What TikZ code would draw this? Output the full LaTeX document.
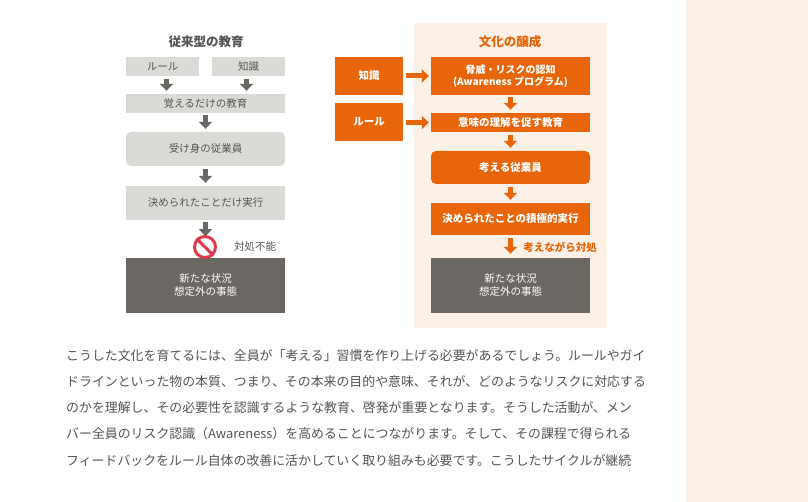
\documentclass[tikz,border=0pt]{standalone}
\usepackage{fontspec}
\setmainfont{Noto Sans CJK JP}
\usetikzlibrary{arrows.meta}
\definecolor{ltgray}{HTML}{DCDAD6}
\definecolor{dkgray}{HTML}{6B6762}
\definecolor{txgray}{HTML}{555555}
\definecolor{orng}{HTML}{E8650A}
\definecolor{cream}{HTML}{FDF0E6}
\definecolor{nored}{HTML}{E03A4A}
\tikzset{
  gbox/.style={fill=ltgray,text=txgray,font=\fontsize{10.5}{12.5}\selectfont,inner sep=0pt},
  obox/.style={fill=orng,text=white,font=\fontsize{10.5}{12.5}\selectfont\bfseries,inner sep=0pt,align=center},
  dbox/.style={fill=dkgray,text=white,font=\fontsize{10.5}{13}\selectfont,inner sep=0pt,align=center},
  garrow/.style={draw=dkgray,line width=5pt,-{Triangle[width=13pt,length=7pt]}},
  oarrow/.style={draw=orng,line width=5pt,-{Triangle[width=13pt,length=7pt]}},
  para/.style={anchor=west,text=txgray,font=\fontsize{12.9}{14}\selectfont,inner sep=0pt}
}
\begin{document}
\begin{tikzpicture}[x=1pt,y=-1pt]
\path[fill=white] (0,0) rectangle (808,502);
\fill[cream] (686,0) rectangle (808,502);
\fill[cream] (414,23) rectangle (607,328);

% left column
\node[text=txgray,font=\fontsize{12.5}{14}\selectfont\bfseries] (ltitle) at (206,42) {従来型の教育};
\node[gbox,minimum width=73pt,minimum height=19pt] (lrule) at (162.5,66.5) {ルール};
\node[gbox,minimum width=73pt,minimum height=19pt] (lknow) at (248.5,66.5) {知識};
\node[gbox,minimum width=159pt,minimum height=19pt] (lmemo) at (205.5,103.5) {覚えるだけの教育};
\node[gbox,minimum width=159pt,minimum height=34pt,rounded corners=5pt] (lpass) at (205.5,149) {受け身の従業員};
\node[gbox,minimum width=159pt,minimum height=34pt] (ldo) at (205.5,203) {決められたことだけ実行};
\node[dbox,minimum width=159pt,minimum height=55pt] (lnew) at (205.5,285.5) {新たな状況\\想定外の事態};
\draw[garrow] ([xshift=4pt,yshift=-3pt]lrule.south) -- ([xshift=4pt,yshift=3pt]lrule.south |- lmemo.north);
\draw[garrow] ([xshift=-2pt,yshift=-3pt]lknow.south) -- ([xshift=-2pt,yshift=3pt]lknow.south |- lmemo.north);
\draw[garrow] ([yshift=-2pt]lmemo.south) -- ([yshift=3pt]lpass.north);
\draw[garrow] ([yshift=-3pt]lpass.south) -- ([yshift=3pt]ldo.north);
\draw[garrow] ([yshift=-2pt]ldo.south) -- ++(0,14);
\node[circle,draw=nored,line width=3pt,fill=white,minimum size=21pt,inner sep=0pt] (lno) at (205,247) {};
\draw[nored,line width=3pt] (lno.north west) -- (lno.south east);
\node[text=txgray,font=\fontsize{10.5}{12}\selectfont] (lcant) at (255,247) {対処不能};

% right column
\node[text=orng,font=\fontsize{12.5}{14}\selectfont\bfseries] (rtitle) at (510,42) {文化の醸成};
\node[obox,minimum width=68pt,minimum height=38pt] (rknow) at (369,76) {知識};
\node[obox,minimum width=68pt,minimum height=38pt] (rrule) at (369,122) {ルール};
\node[obox,minimum width=159pt,minimum height=38pt,font=\fontsize{10}{12.5}\selectfont\bfseries] (rrisk) at (510.5,76) {脅威・リスクの認知\\(Awareness プログラム)};
\node[obox,minimum width=159pt,minimum height=19pt] (redu) at (510.5,122.5) {意味の理解を促す教育};
\node[obox,minimum width=159pt,minimum height=33pt,rounded corners=5pt] (rthink) at (510.5,167.5) {考える従業員};
\node[obox,minimum width=159pt,minimum height=32pt] (rdo) at (510.5,219) {決められたことの積極的実行};
\node[dbox,minimum width=159pt,minimum height=55pt] (rnew) at (510.5,285.5) {新たな状況\\想定外の事態};
\draw[oarrow] ([xshift=3pt]rknow.east) -- ([xshift=-2pt]rrisk.west);
\draw[oarrow] ([xshift=3pt]rrule.east |- redu) -- ([xshift=-2pt]redu.west);
\draw[oarrow] ([yshift=-2pt]rrisk.south) -- ([yshift=3pt]redu.north);
\draw[oarrow] ([yshift=-3pt]redu.south) -- ([yshift=3pt]rthink.north);
\draw[oarrow] ([yshift=-3pt]rthink.south) -- ([yshift=3pt]rdo.north);
\draw[oarrow] ([yshift=-3pt]rdo.south) -- ([yshift=4pt]rnew.north);
\node[text=orng,font=\fontsize{10.5}{12}\selectfont\bfseries] (rcope) at (560,247) {考えながら対処};

% paragraph
\node[para] (p1) at (66,356) {こうした文化を育てるには、全員が「考える」習慣を作り上げる必要があるでしょう。ルールやガイ};
\node[para] (p2) at (66,382) {ドラインといった物の本質、つまり、その本来の目的や意味、それが、どのようなリスクに対応する};
\node[para] (p3) at (66,408) {のかを理解し、その必要性を認識するような教育、啓発が重要となります。そうした活動が、メン};
\node[para] (p4) at (66,434) {バー全員のリスク認識（Awareness）を高めることにつながります。そして、その課程で得られる};
\node[para] (p5) at (66,461) {フィードバックをルール自体の改善に活かしていく取り組みも必要です。こうしたサイクルが継続};
\end{tikzpicture}
\end{document}
